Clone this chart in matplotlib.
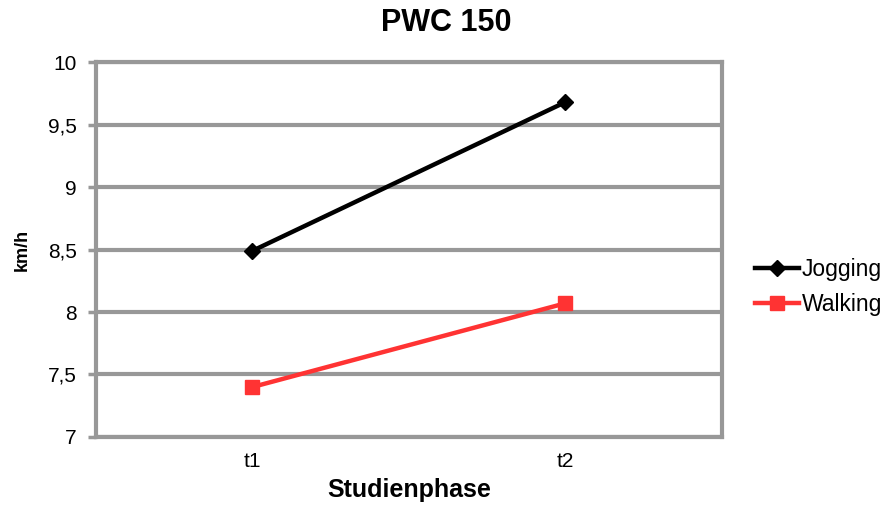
import matplotlib
matplotlib.use("Agg")
import matplotlib.pyplot as plt

plt.rcParams['font.family'] = ['Liberation Sans', 'DejaVu Sans']

categories = ["t1", "t2"]
jogging = [8.49, 9.68]
walking = [7.40, 8.07]
yticks = [7, 7.5, 8, 8.5, 9, 9.5, 10]
ytick_labels = ["7", "7,5", "8", "8,5", "9", "9,5", "10"]

fig = plt.figure(figsize=(8.93, 5.08), dpi=100)
ax = fig.add_axes([0.1075, 0.1398, 0.701, 0.738])

grid_c = "#989898"
x = list(range(len(categories)))
ax.plot(x, jogging, color="black", lw=3.2, marker="D", ms=8, label="Jogging", zorder=3)
ax.plot(x, walking, color="#ff3333", lw=3.2, marker="s", ms=10, label="Walking", zorder=3)

ax.set_xlim(-0.5, 1.5)
ax.set_ylim(7, 10)
ax.set_xticks(x)
ax.set_xticklabels(categories, fontsize=15)
ax.set_yticks(yticks)
ax.set_yticklabels(ytick_labels, fontsize=15)
ax.tick_params(axis='x', length=0, pad=11)
ax.tick_params(axis='y', length=6, width=2.5, color=grid_c, pad=8)
for yv in yticks:
    ax.axhline(yv, color=grid_c, lw=3, zorder=1)
for s in ax.spines.values():
    s.set_color(grid_c)
    s.set_linewidth(3)

fig.text(0.5, 0.955, "PWC 150", fontsize=22, fontweight="bold", ha="center", va="center")
ax.set_xlabel("Studienphase", fontsize=18, fontweight="bold", labelpad=5)
ax.set_ylabel("km/h", fontsize=13, fontweight="bold", labelpad=12)

fig.legend(loc="center left", bbox_to_anchor=(0.845, 0.435), frameon=False, fontsize=16.5,
           handlelength=1.95, handletextpad=0.1, labelspacing=0.5, borderaxespad=0, borderpad=0)

fig.savefig("out.png", dpi=100)
